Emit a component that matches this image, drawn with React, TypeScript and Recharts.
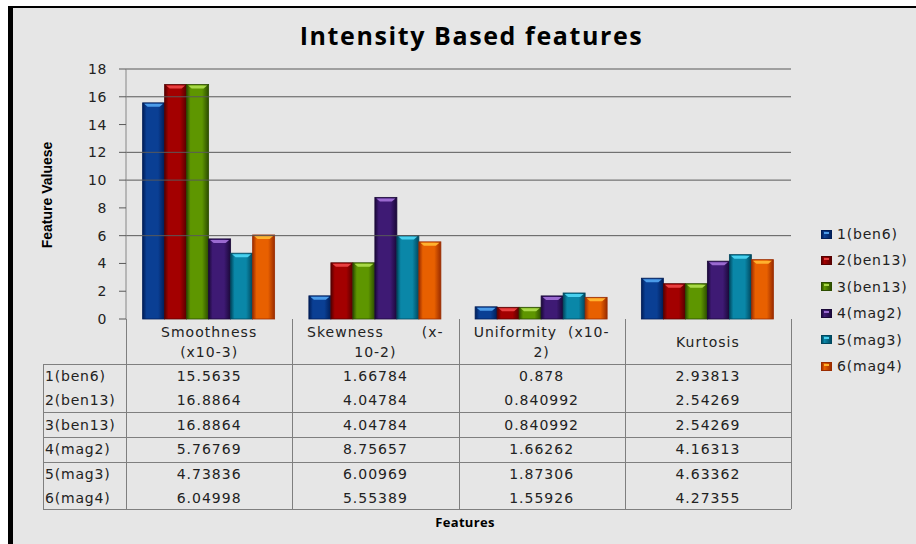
import { Bar, BarChart, ReferenceLine, XAxis, YAxis } from "recharts"

const categories = ["Smoothness", "Skewness", "Uniformity", "Kurtosis"]
const categoryHeaders = [
  ["Smoothness", "(x10-3)"],
  ["Skewness       (x-", "10-2)"],
  ["Uniformity  (x10-", "2)"],
  ["Kurtosis"],
]
const seriesNames = ["1(ben6)", "2(ben13)", "3(ben13)", "4(mag2)", "5(mag3)", "6(mag4)"]
const ben6 = [15.5635, 1.66784, 0.878, 2.93813]
const ben13a = [16.8864, 4.04784, 0.840992, 2.54269]
const ben13b = [16.8864, 4.04784, 0.840992, 2.54269]
const mag2 = [5.76769, 8.75657, 1.66262, 4.16313]
const mag3 = [4.73836, 6.00969, 1.87306, 4.63362]
const mag4 = [6.04998, 5.55389, 1.55926, 4.27355]
const seriesValues = [ben6, ben13a, ben13b, mag2, mag3, mag4]
const yTicks = [0, 2, 4, 6, 8, 10, 12, 14, 16, 18]
const gridValues = [18, 16, 12, 10, 6]

// base, dark edge, light cap
const palette = [
  ["#0a3f94", "#001d57", "#4b9be8"],
  ["#a30000", "#560000", "#e84040"],
  ["#5e9600", "#2c4c00", "#a8d848"],
  ["#3e1a74", "#1a0838", "#9a6ad0"],
  ["#0a87a8", "#00475e", "#48d0ee"],
  ["#e86000", "#9a2c00", "#ffb22e"],
]

const data = categories.map((c, i) => {
  const row: Record<string, string | number> = { name: c }
  seriesNames.forEach((s, j) => {
    row[s] = seriesValues[j][i]
  })
  return row
})

const makeShape = (k: number) => (props: any) => {
  const { x, y, width, height } = props
  if (!height || height <= 0) return <g />
  const cap = Math.min(4, height)
  return (
    <g>
      <rect x={x} y={y} width={width} height={height} fill={`url(#grad${k})`} stroke={palette[k][1]} strokeWidth={0.8} />
      <polygon
        points={`${x + 1.5},${y + 1} ${x + width - 1.5},${y + 1} ${x + width - 5},${y + cap} ${x + 5},${y + cap}`}
        fill={palette[k][2]}
      />
    </g>
  )
}

const font = "'DejaVu Sans', Verdana, sans-serif"
const colX = [126, 292.25, 458.5, 624.75, 791]
const rowMid = [376, 400, 424.5, 449, 473.5, 498]
const hLines = [364, 412, 437, 462, 509]

export default function App() {
  return (
    <div style={{ position: "absolute", left: 0, top: 0, width: 916, height: 544, background: "#fff", overflow: "hidden" }}>
      <div
        style={{
          position: "absolute",
          left: 8,
          top: 6,
          width: 908,
          height: 538,
          boxSizing: "border-box",
          background: "#e6e6e6",
          borderLeft: "5px solid #000",
          borderTop: "2px solid #000",
        }}
      />
      <div
        style={{
          position: "absolute",
          left: 0,
          width: 943,
          top: 17,
          textAlign: "center",
          fontFamily: "'Open Sans', sans-serif",
          fontWeight: 700,
          fontSize: 25,
          letterSpacing: 1.6,
          color: "#000",
          lineHeight: "36px",
        }}
      >
        Intensity Based features
      </div>
      <div
        style={{
          position: "absolute",
          left: 47,
          top: 195,
          transform: "translate(-50%, -50%) rotate(-90deg)",
          fontFamily: "'Liberation Sans Narrow', 'Arial Narrow', sans-serif",
          fontWeight: 700,
          fontSize: 14,
          whiteSpace: "nowrap",
          color: "#000",
        }}
      >
        Feature Valuese
      </div>
      <div style={{ position: "absolute", left: 0, top: 0 }}>
        <BarChart
          width={916}
          height={544}
          data={data}
          margin={{ top: 69, right: 125, bottom: 225, left: 13 }}
          barCategoryGap="10%"
          barGap={0}
        >
          <defs>
            {palette.map((p, k) => (
              <linearGradient key={k} id={`grad${k}`} x1="0" y1="0" x2="1" y2="0">
                <stop offset="0%" stopColor={p[1]} />
                <stop offset="18%" stopColor={p[0]} />
                <stop offset="70%" stopColor={p[0]} />
                <stop offset="100%" stopColor={p[1]} />
              </linearGradient>
            ))}
          </defs>
          <XAxis dataKey="name" tick={false} height={0} axisLine={{ stroke: "#7f7f7f" }} tickLine={false} />
          <YAxis
            width={113}
            domain={[0, 18]}
            ticks={yTicks}
            interval={0}
            tickSize={7}
            tickMargin={12}
            axisLine={{ stroke: "#868686" }}
            tickLine={{ stroke: "#595959" }}
            tick={{ fill: "#222", fontSize: 14, fontFamily: font, letterSpacing: 0.6 }}
          />
          {gridValues.map((v) => (
            <ReferenceLine key={v} y={v} stroke="#595959" strokeWidth={1} />
          ))}
          {seriesNames.map((s, k) => (
            <Bar key={s} dataKey={s} fill={palette[k][0]} shape={makeShape(k)} isAnimationActive={false} />
          ))}
        </BarChart>
      </div>
      <svg style={{ position: "absolute", left: 0, top: 0 }} width={916} height={544}>
        {hLines.map((y, i) => (
          <line key={i} x1={43} x2={791} y1={y + 0.5} y2={y + 0.5} stroke="#7f7f7f" />
        ))}
        <line x1={43.5} x2={43.5} y1={364} y2={509} stroke="#7f7f7f" />
        {colX.map((x, i) => (
          <line key={i} x1={Math.round(x) + 0.5} x2={Math.round(x) + 0.5} y1={319} y2={509} stroke="#7f7f7f" />
        ))}
      </svg>
      {categoryHeaders.map((lines, i) => (
        <div
          key={i}
          style={{
            position: "absolute",
            left: colX[i],
            width: colX[i + 1] - colX[i],
            top: lines.length === 1 ? 332 : 322,
            textAlign: "center",
            fontFamily: font,
            fontSize: 14,
            letterSpacing: 1,
            lineHeight: "20px",
            color: "#222",
            whiteSpace: "pre",
          }}
        >
          {lines.map((l, j) => (
            <div key={j}>{l}</div>
          ))}
        </div>
      ))}
      {seriesNames.map((s, r) => (
        <div key={s}>
          <div
            style={{
              position: "absolute",
              left: 45,
              top: rowMid[r] - 10,
              lineHeight: "20px",
              fontFamily: font,
              fontSize: 14,
              letterSpacing: 0.8,
              color: "#222",
            }}
          >
            {s}
          </div>
          {seriesValues[r].map((v, i) => (
            <div
              key={i}
              style={{
                position: "absolute",
                left: colX[i],
                width: colX[i + 1] - colX[i],
                top: rowMid[r] - 10,
                lineHeight: "20px",
                textAlign: "center",
                fontFamily: font,
                fontSize: 14,
                letterSpacing: 1,
                color: "#222",
              }}
            >
              {v}
            </div>
          ))}
        </div>
      ))}
      <div
        style={{
          position: "absolute",
          left: 0,
          width: 930,
          top: 512,
          textAlign: "center",
          fontFamily: "'Open Sans', sans-serif",
          fontWeight: 700,
          fontSize: 13,
          letterSpacing: 0.3,
          lineHeight: "20px",
          color: "#000",
        }}
      >
        Features
      </div>
      {seriesNames.map((s, k) => (
        <div
          key={s}
          style={{
            position: "absolute",
            left: 821,
            top: 234 + k * 26.4 - 10,
            height: 20,
            display: "flex",
            alignItems: "center",
            fontFamily: font,
            fontSize: 14,
            letterSpacing: 0.8,
            color: "#222",
          }}
        >
          <svg width={11} height={9} style={{ marginRight: 5 }}>
            <defs>
              <linearGradient id={`lg${k}`} x1="0" y1="0" x2="1" y2="0">
                <stop offset="0%" stopColor={palette[k][1]} />
                <stop offset="30%" stopColor={palette[k][0]} />
                <stop offset="100%" stopColor={palette[k][1]} />
              </linearGradient>
            </defs>
            <rect x={0.5} y={0.5} width={10} height={8} fill={`url(#lg${k})`} stroke={palette[k][1]} />
            <rect x={3} y={2} width={5} height={2} fill={palette[k][2]} />
          </svg>
          {s}
        </div>
      ))}
    </div>
  )
}
